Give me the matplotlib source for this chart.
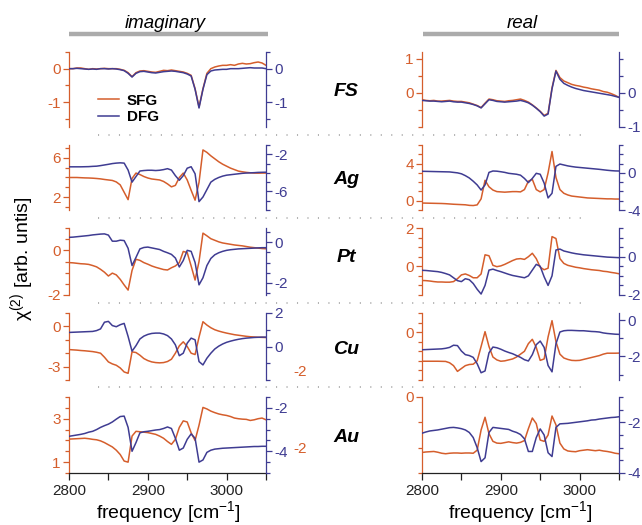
import numpy as np
import matplotlib
matplotlib.use("Agg")
import matplotlib.pyplot as plt
from matplotlib.lines import Line2D

plt.rcParams['font.family'] = ['Liberation Sans', 'DejaVu Sans']
plt.rcParams['mathtext.fontset'] = 'custom'
plt.rcParams['mathtext.rm'] = 'Liberation Sans'
plt.rcParams['mathtext.it'] = 'Liberation Sans:italic'

ORANGE = '#D55E2C'
PURPLE = '#3F3C92'
GREY = '#ABABAB'

# frequency grid [cm-1]
freq = np.arange(2800, 3051, 5)

samples = ['FS', 'Ag', 'Pt', 'Cu', 'Au']

# imaginary part, SFG (orange, left axis) and DFG (purple, right axis)
fs_im_sfg = [0.00, 0.00, 0.02, 0.02, 0.00, -0.02, 0.00, -0.01, 0.00, 0.01,
             0.00, 0.00, 0.00, -0.02, -0.05, -0.12, -0.24, -0.12, -0.07, -0.06,
             -0.08, -0.10, -0.11, -0.08, -0.05, -0.06, -0.04, -0.06, -0.08, -0.10,
             -0.14, -0.20, -0.60, -1.15, -0.60, -0.14, 0.00, 0.05, 0.08, 0.10,
             0.10, 0.12, 0.10, 0.14, 0.16, 0.14, 0.15, 0.18, 0.20, 0.17, 0.10]
fs_im_dfg = [0.00, 0.00, 0.01, 0.00, -0.01, -0.02, -0.01, -0.02, 0.00, 0.00,
             -0.01, 0.00, -0.01, -0.03, -0.06, -0.14, -0.25, -0.14, -0.09, -0.08,
             -0.10, -0.12, -0.13, -0.11, -0.09, -0.08, -0.07, -0.08, -0.10, -0.12,
             -0.16, -0.22, -0.62, -1.18, -0.62, -0.18, -0.07, -0.04, -0.03, -0.02,
             -0.02, 0.00, 0.00, 0.00, 0.01, 0.02, 0.03, 0.02, 0.02, 0.02, 0.00]
ag_im_sfg = [4.00, 4.00, 4.00, 3.98, 3.96, 3.95, 3.93, 3.90, 3.86, 3.80,
             3.75, 3.70, 3.55, 3.25, 2.50, 1.75, 3.90, 4.45, 4.30, 4.10,
             3.95, 3.85, 3.80, 3.75, 3.60, 3.35, 3.05, 3.20, 4.00, 4.45,
             3.75, 2.70, 1.70, 3.50, 6.80, 6.55, 6.20, 5.90, 5.60, 5.35,
             5.15, 4.95, 4.80, 4.65, 4.58, 4.52, 4.48, 4.45, 4.44, 4.45, 4.45]
ag_im_dfg = [-3.35, -3.35, -3.35, -3.35, -3.34, -3.33, -3.30, -3.28, -3.22, -3.15,
             -3.08, -3.00, -2.95, -2.92, -2.95, -3.70, -5.00, -4.40, -3.80, -3.75,
             -3.72, -3.72, -3.75, -3.72, -3.65, -3.55, -3.70, -4.30, -4.80, -4.30,
             -3.50, -3.34, -4.10, -7.10, -6.60, -5.80, -5.00, -4.70, -4.50, -4.35,
             -4.25, -4.20, -4.15, -4.10, -4.05, -4.02, -4.00, -3.98, -3.95, -3.94, -3.93]
pt_im_sfg = [-0.55, -0.56, -0.58, -0.60, -0.61, -0.63, -0.68, -0.74, -0.85, -0.98,
             -1.15, -1.02, -1.10, -1.30, -1.55, -1.78, -0.90, -0.40, -0.45, -0.55,
             -0.62, -0.70, -0.76, -0.81, -0.86, -0.88, -0.78, -0.70, -0.55, -0.05,
             -0.10, -0.70, -1.33, -0.50, 0.77, 0.65, 0.52, 0.45, 0.38, 0.33,
             0.30, 0.27, 0.24, 0.22, 0.20, 0.17, 0.14, 0.12, 0.10, 0.08, 0.07]
pt_im_dfg = [0.24, 0.25, 0.27, 0.29, 0.31, 0.33, 0.36, 0.38, 0.40, 0.41,
             0.35, 0.05, 0.05, 0.10, 0.08, -0.30, -1.15, -0.75, -0.33, -0.26,
             -0.24, -0.28, -0.32, -0.36, -0.45, -0.52, -0.60, -0.78, -1.22, -0.90,
             -0.40, -0.45, -1.00, -2.10, -1.75, -1.15, -0.80, -0.62, -0.52, -0.45,
             -0.40, -0.37, -0.35, -0.33, -0.32, -0.31, -0.30, -0.29, -0.28, -0.27, -0.27]
cu_im_sfg = [-1.73, -1.75, -1.77, -1.80, -1.82, -1.85, -1.88, -1.93, -2.00, -2.30,
             -2.65, -2.80, -2.90, -3.10, -3.40, -3.50, -1.90, -1.95, -2.15, -2.40,
             -2.55, -2.65, -2.70, -2.72, -2.70, -2.62, -2.45, -2.00, -1.45, -1.15,
             -1.50, -2.00, -2.10, -0.80, 0.35, 0.10, -0.10, -0.25, -0.35, -0.43,
             -0.50, -0.56, -0.62, -0.66, -0.70, -0.74, -0.77, -0.79, -0.81, -0.82, -0.83]
cu_im_dfg = [0.84, 0.85, 0.86, 0.87, 0.88, 0.89, 0.90, 0.95, 1.05, 1.45,
             1.50, 1.25, 1.18, 1.30, 1.38, 0.60, -0.28, 0.05, 0.45, 0.62,
             0.72, 0.78, 0.80, 0.80, 0.75, 0.65, 0.45, 0.10, -0.55, -0.40,
             0.20, 0.50, 0.40, -0.90, -1.10, -0.70, -0.40, -0.15, 0.02, 0.15,
             0.25, 0.32, 0.38, 0.43, 0.47, 0.50, 0.52, 0.54, 0.55, 0.56, 0.56]
au_im_sfg = [2.06, 2.07, 2.08, 2.09, 2.10, 2.08, 2.05, 2.03, 1.98, 1.90,
             1.80, 1.70, 1.55, 1.35, 1.05, 1.00, 2.20, 2.42, 2.40, 2.38,
             2.36, 2.32, 2.28, 2.20, 2.10, 1.95, 1.82, 2.05, 2.60, 2.90,
             2.85, 2.35, 2.00, 2.70, 3.52, 3.45, 3.35, 3.28, 3.22, 3.18,
             3.15, 3.10, 3.03, 3.00, 2.98, 2.97, 2.92, 2.95, 3.00, 3.03, 2.95]
au_im_dfg = [-3.31, -3.28, -3.25, -3.22, -3.18, -3.12, -3.08, -3.00, -2.90, -2.82,
             -2.75, -2.65, -2.52, -2.40, -2.38, -2.90, -4.00, -3.60, -3.15, -3.10,
             -3.08, -3.05, -3.02, -3.00, -2.95, -2.88, -2.95, -3.40, -3.95, -3.85,
             -3.45, -3.20, -3.40, -4.50, -4.40, -4.05, -3.95, -3.90, -3.88, -3.86,
             -3.85, -3.84, -3.83, -3.82, -3.81, -3.80, -3.79, -3.78, -3.78, -3.77, -3.77]

# real part
fs_re_sfg = [-0.20, -0.22, -0.23, -0.22, -0.24, -0.24, -0.23, -0.22, -0.24, -0.25,
             -0.25, -0.27, -0.29, -0.33, -0.37, -0.43, -0.30, -0.18, -0.20, -0.23,
             -0.24, -0.25, -0.23, -0.22, -0.20, -0.18, -0.22, -0.27, -0.35, -0.44,
             -0.54, -0.66, -0.60, 0.15, 0.66, 0.45, 0.35, 0.30, 0.25, 0.22,
             0.20, 0.17, 0.15, 0.12, 0.10, 0.08, 0.04, 0.02, -0.02, -0.07, -0.13]
fs_re_dfg = [-0.22, -0.23, -0.24, -0.24, -0.25, -0.26, -0.25, -0.24, -0.26, -0.27,
             -0.27, -0.29, -0.31, -0.34, -0.38, -0.44, -0.32, -0.20, -0.22, -0.25,
             -0.26, -0.27, -0.26, -0.25, -0.24, -0.22, -0.25, -0.29, -0.36, -0.45,
             -0.55, -0.68, -0.62, 0.12, 0.64, 0.40, 0.28, 0.22, 0.17, 0.13,
             0.10, 0.07, 0.05, 0.03, 0.01, -0.01, -0.03, -0.05, -0.07, -0.10, -0.13]
ag_re_sfg = [-0.25, -0.26, -0.27, -0.28, -0.29, -0.30, -0.32, -0.35, -0.38, -0.40,
             -0.42, -0.44, -0.50, -0.52, -0.45, 0.20, 2.20, 1.50, 1.15, 0.98,
             0.95, 0.92, 0.95, 0.98, 0.98, 0.95, 1.20, 2.10, 2.30, 1.20,
             0.95, 1.20, 3.00, 5.30, 2.50, 1.20, 0.80, 0.62, 0.50, 0.45,
             0.40, 0.35, 0.30, 0.28, 0.26, 0.24, 0.22, 0.20, 0.20, 0.18, 0.18]
ag_re_dfg = [0.17, 0.16, 0.15, 0.14, 0.13, 0.12, 0.11, 0.10, 0.05, 0.00,
             -0.10, -0.30, -0.55, -0.90, -1.30, -1.85, -1.30, 0.05, 0.20, 0.18,
             0.12, 0.05, -0.05, -0.10, -0.15, -0.25, -0.60, -1.05, -0.60, -0.05,
             -0.15, -1.10, -2.70, -2.20, 0.70, 0.95, 0.85, 0.75, 0.68, 0.62,
             0.58, 0.54, 0.50, 0.46, 0.42, 0.38, 0.33, 0.28, 0.24, 0.21, 0.20]
pt_re_sfg = [-0.74, -0.75, -0.77, -0.80, -0.82, -0.82, -0.83, -0.83, -0.80, -0.65,
             -0.45, -0.40, -0.48, -0.60, -0.60, -0.40, 0.60, 0.55, 0.05, -0.02,
             0.02, 0.10, 0.20, 0.30, 0.38, 0.40, 0.36, 0.50, 0.68, 0.40,
             -0.05, -0.18, -0.10, 1.55, 1.45, 0.40, 0.15, 0.05, 0.00, -0.05,
             -0.08, -0.12, -0.15, -0.18, -0.20, -0.22, -0.26, -0.28, -0.32, -0.35, -0.39]
pt_re_dfg = [-0.71, -0.72, -0.74, -0.76, -0.78, -0.82, -0.88, -0.95, -1.10, -1.25,
             -1.30, -1.15, -1.20, -1.40, -1.70, -1.95, -1.50, -0.70, -0.65, -0.72,
             -0.78, -0.85, -0.92, -0.98, -1.02, -1.06, -1.10, -1.00, -0.70, -0.40,
             -0.50, -1.05, -1.50, -1.00, 0.35, 0.40, 0.30, 0.25, 0.20, 0.16,
             0.13, 0.10, 0.08, 0.06, 0.04, 0.02, 0.00, -0.02, -0.03, -0.04, -0.05]
cu_re_sfg = [-3.04, -3.04, -3.04, -3.04, -3.04, -3.05, -3.06, -3.20, -3.50, -4.10,
             -3.80, -3.50, -3.38, -3.35, -3.00, -1.50, 0.05, -1.50, -2.60, -2.90,
             -3.04, -3.00, -2.90, -2.80, -2.60, -2.30, -2.00, -1.20, -0.75, -1.60,
             -2.95, -2.80, -0.50, 1.20, -1.00, -2.30, -2.70, -2.85, -2.95, -2.97,
             -2.95, -2.85, -2.75, -2.65, -2.55, -2.45, -2.30, -2.20, -2.20, -2.20, -2.19]
cu_re_dfg = [-1.63, -1.62, -1.61, -1.60, -1.59, -1.58, -1.55, -1.50, -1.38, -1.40,
             -1.70, -1.90, -1.95, -2.05, -2.40, -2.90, -2.80, -1.80, -1.48, -1.52,
             -1.60, -1.70, -1.78, -1.85, -1.95, -2.05, -2.18, -2.25, -1.90, -1.35,
             -1.15, -1.50, -2.50, -2.85, -1.30, -0.65, -0.58, -0.56, -0.56, -0.57,
             -0.58, -0.58, -0.60, -0.62, -0.63, -0.65, -0.70, -0.73, -0.75, -0.77, -0.78]
au_re_sfg = [-2.19, -2.17, -2.16, -2.15, -2.18, -2.22, -2.24, -2.22, -2.21, -2.21,
             -2.22, -2.21, -2.21, -2.22, -2.10, -1.30, -0.80, -1.45, -1.75, -1.82,
             -1.83, -1.80, -1.77, -1.80, -1.82, -1.79, -1.72, -1.25, -0.83, -1.05,
             -1.70, -1.75, -1.50, -0.75, -1.10, -1.82, -2.05, -2.13, -2.15, -2.16,
             -2.12, -2.10, -2.08, -2.10, -2.12, -2.10, -2.13, -2.15, -2.18, -2.22, -2.24]
au_re_dfg = [-2.43, -2.38, -2.34, -2.32, -2.30, -2.27, -2.24, -2.21, -2.20, -2.22,
             -2.25, -2.30, -2.40, -2.60, -3.00, -3.55, -3.40, -2.40, -2.20, -2.22,
             -2.24, -2.26, -2.28, -2.35, -2.40, -2.48, -2.65, -3.15, -3.15, -2.60,
             -2.26, -2.50, -3.20, -3.35, -2.20, -2.06, -2.05, -2.04, -2.02, -2.00,
             -1.98, -1.96, -1.94, -1.91, -1.90, -1.87, -1.85, -1.83, -1.81, -1.80, -1.78]

imag_sfg = [fs_im_sfg, ag_im_sfg, pt_im_sfg, cu_im_sfg, au_im_sfg]
imag_dfg = [fs_im_dfg, ag_im_dfg, pt_im_dfg, cu_im_dfg, au_im_dfg]
real_sfg = [fs_re_sfg, ag_re_sfg, pt_re_sfg, cu_re_sfg, au_re_sfg]
real_dfg = [fs_re_dfg, ag_re_dfg, pt_re_dfg, cu_re_dfg, au_re_dfg]

# axis setup per panel: (ylim, labelled ticks, unlabelled ticks)
imag_left = [((-1.75, 0.5), [0, -1], [0.5, -0.5, -1.5]),
             ((0.7, 7.3), [6, 2], [7, 5, 4, 3, 1]),
             ((-2, 1), [0, -2], [1, 0.5, -0.5, -1, -1.5]),
             ((-4, 1), [0, -3], [1, -1, -2, -4]),
             ((0.5, 4), [3, 1], [4, 3.5, 2.5, 2, 1.5, 0.5])]
imag_right = [((-1.75, 0.5), [0, -1], [0.5, -0.5, -1.5]),
              ((-8, -1), [-2, -6], [-1, -3, -4, -5, -7, -8]),
              ((-2.6, 0.7), [0, -2], [0.5, -0.5, -1, -1.5, -2.5]),
              ((-2, 2), [2, 0], [1, -1, -2]),
              ((-5, -1.5), [-2, -4], [-1.5, -2.5, -3, -3.5, -4.5, -5])]
real_left = [((-1, 1.2), [1, 0], [0.5, -0.5, -1]),
             ((-1, 6), [4, 0], [6, 5, 3, 2, 1, -1]),
             ((-1.5, 2), [2, 0], [1.5, 1, 0.5, -0.5, -1, -1.5]),
             ((-5, 2), [0], [2, 1, -1, -2, -3, -4, -5]),
             ((-3, 0), [0], [-1, -2, -3])]
real_right = [((-1, 1.2), [0, -1], [1, 0.5, -0.5]),
              ((-4, 3), [0, -4], [3, 2, 1, -1, -2, -3]),
              ((-2, 1.5), [0, -2], [1.5, 1, 0.5, -0.5, -1, -1.5]),
              ((-3.3, 0.4), [0, -2], [-1, -3]),
              ((-4, -1), [-2, -4], [-1, -1.5, -2.5, -3, -3.5])]

W, H = 642, 525
fig = plt.figure(figsize=(W / 100, H / 100), dpi=100)

row_px = [(52, 127), (145, 210), (228, 295), (313, 380), (397, 473)]
col_px = [69, 422]


def style_axis(ax, side, color, cfg):
    ylim, major, minor = cfg
    ax.set_ylim(*ylim)
    ax.set_yticks(major)
    ax.set_yticks(minor, minor=True)
    ax.set_yticklabels([f'{v:g}' for v in major])
    for s in ['top', 'bottom', 'left', 'right']:
        ax.spines[s].set_visible(s == side)
    ax.spines[side].set_color(color)
    ax.spines[side].set_linewidth(0.9)
    ax.tick_params(axis='y', which='major', colors=color, direction='out',
                   length=4, width=0.9, labelsize=11, pad=2)
    ax.tick_params(axis='y', which='minor', colors=color, direction='out',
                   length=3, width=0.9)


legend_handles = []
for col, (sfg_all, dfg_all, lcfg, rcfg) in enumerate(
        [(imag_sfg, imag_dfg, imag_left, imag_right),
         (real_sfg, real_dfg, real_left, real_right)]):
    for row in range(5):
        y0, y1 = row_px[row]
        ax = fig.add_axes([col_px[col] / W, 1 - y1 / H, 197 / W, (y1 - y0) / H])
        ax.patch.set_visible(False)
        ax2 = ax.twinx()
        l1, = ax.plot(freq, sfg_all[row], color=ORANGE, lw=1.1, label='SFG')
        l2, = ax2.plot(freq, dfg_all[row], color=PURPLE, lw=1.1, label='DFG')
        if row == 0 and col == 0:
            legend_handles = [l1, l2]
        ax.set_xlim(2800, 3050)
        style_axis(ax, 'left', ORANGE, lcfg[row])
        style_axis(ax2, 'right', PURPLE, rcfg[row])
        if row == 4:
            ax.spines['bottom'].set_visible(True)
            ax.spines['bottom'].set_color('#222222')
            ax.spines['bottom'].set_linewidth(0.9)
            ax.set_xticks([2800, 2900, 3000])
            ax.set_xticks([2850, 2950, 3050], minor=True)
            ax.tick_params(axis='x', which='both', direction='out', length=5,
                           width=0.9, colors='#222222', labelsize=11, pad=3)
        else:
            ax.tick_params(axis='x', which='both', bottom=False, labelbottom=False)

fig.legend(legend_handles, ['SFG', 'DFG'], loc='upper left',
           bbox_to_anchor=(90 / W, 1 - 86 / H), frameon=False,
           handlelength=1.4, handletextpad=0.5, labelspacing=0.15,
           borderpad=0, prop={'weight': 'bold', 'size': 11})

# headers
fig.text(165 / W, 1 - 23 / H, 'imaginary', ha='center', va='center',
         style='italic', fontsize=13.5)
fig.text(522 / W, 1 - 24 / H, 'real', ha='center', va='center',
         style='italic', fontsize=13.5)
for x0, x1 in [(69, 268), (423, 619)]:
    fig.add_artist(Line2D([x0 / W, x1 / W], [1 - 34 / H, 1 - 34 / H],
                          transform=fig.transFigure, color=GREY, lw=3.2,
                          solid_capstyle='butt'))

# dotted separators between samples
for y in [135, 218, 303, 387]:
    fig.add_artist(Line2D([98 / W, 585 / W], [1 - y / H, 1 - y / H],
                          transform=fig.transFigure, color=GREY, lw=1.3,
                          linestyle=(0, (0.6, 5.2))))

# sample names
name_y = [92, 180, 258, 349, 437]
for name, y in zip(samples, name_y):
    fig.text(346 / W, 1 - y / H, name, ha='center', va='center',
             fontsize=14, fontweight='bold', style='italic')

# stray labels as in the original
for y in [372, 449]:
    fig.text(300 / W, 1 - y / H, '-2', ha='center', va='center',
             color=ORANGE, fontsize=11)

fig.text(22 / W, 1 - 259 / H, r'χ$^{(2)}$ [arb. untis]', rotation=90,
         ha='center', va='center', fontsize=14)
for xc in [168, 520]:
    fig.text(xc / W, 1 - 512 / H, r'frequency [cm$^{-1}$]', ha='center',
             va='center', fontsize=14)

fig.savefig('out.png', dpi=100)
